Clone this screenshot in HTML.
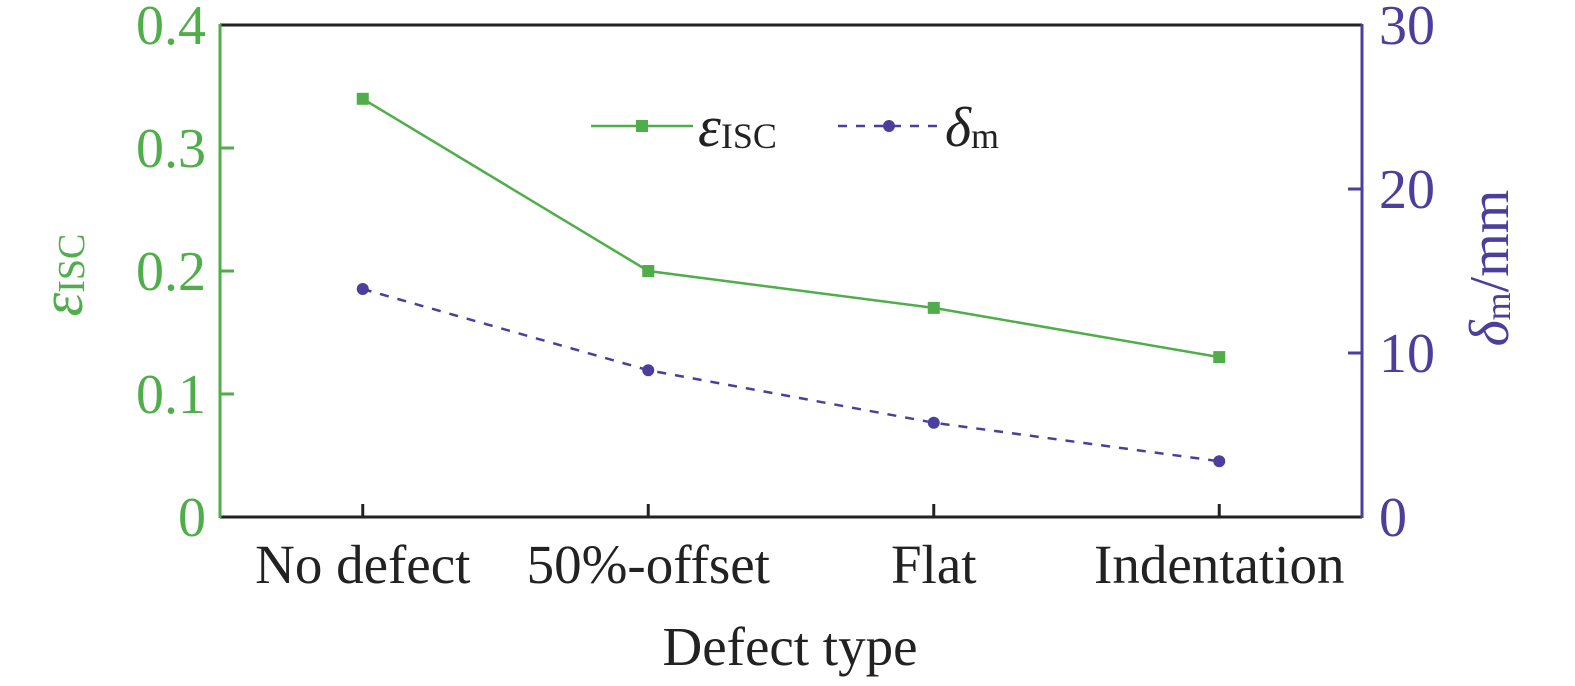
<!DOCTYPE html>
<html><head><meta charset="utf-8"><style>
html,body{margin:0;padding:0;background:#fff;width:1575px;height:686px;overflow:hidden}
text{font-family:"Liberation Serif",serif}
</style></head><body>
<svg id="chart" width="1575" height="686" style="position:absolute;left:0;top:0">
<g id="g"></g>
</svg>
<script>
const categories=["No defect","50%-offset","Flat","Indentation"];
const epsValues=[0.34,0.20,0.17,0.13];
const deltaValues=[13.9,8.95,5.75,3.4];
const leftTicks=[0,0.1,0.2,0.3,0.4];
const leftTickLabels=["0","0.1","0.2","0.3","0.4"];
const rightTicks=[0,10,20,30];
const rightTickLabels=["0","10","20","30"];

const G="#4fae4a",P="#4b3f9b";
const L=220,R=1362,T=25,B=517;
const x=i=>L+(R-L)/categories.length*(i+0.5);
const yL=v=>B-(v/0.4)*(B-T);
const yR=v=>B-(v/30)*(B-T);
const g=document.getElementById('g');
function el(tag,attrs,text){const e=document.createElementNS('http://www.w3.org/2000/svg',tag);for(const k in attrs)e.setAttribute(k,attrs[k]);if(text!==undefined)e.textContent=text;g.appendChild(e);return e;}

let e;
e=el('line',{x1:L,y1:T,x2:R,y2:T,stroke:'#222','stroke-width':3});


e=el('line',{x1:L,y1:B,x2:R,y2:B,stroke:'#222','stroke-width':3});


e=el('line',{x1:L,y1:T-1,x2:L,y2:B+1,stroke:G,'stroke-width':3});


e=el('line',{x1:R,y1:T-1,x2:R,y2:B+1,stroke:P,'stroke-width':3});



leftTicks.forEach((v,i)=>{
 if(v>0&&v<0.4){e=el('line',{x1:L,y1:yL(v),x2:L+14,y2:yL(v),stroke:G,'stroke-width':3});
 
 }
 e=el('text',{x:L-14,y:yL(v)+19,'text-anchor':'end','font-size':56,fill:G},leftTickLabels[i]);
 
 
});
rightTicks.forEach((v,i)=>{
 if(v>0&&v<30){e=el('line',{x1:R,y1:yR(v),x2:R-14,y2:yR(v),stroke:P,'stroke-width':3});
 
 }
 e=el('text',{x:R+17,y:yR(v)+19,'text-anchor':'start','font-size':56,fill:P},rightTickLabels[i]);
 
 
});
categories.forEach((c,i)=>{
 e=el('line',{x1:x(i),y1:B,x2:x(i),y2:B-13,stroke:'#222','stroke-width':3});
 
 
 e=el('text',{x:x(i),y:583,'text-anchor':'middle','font-size':55,fill:'#222'},c);
 
 
});

e=el('polyline',{points:epsValues.map((v,i)=>x(i)+','+yL(v)).join(' '),fill:'none',stroke:G,'stroke-width':2.5});


epsValues.forEach((v,i)=>{
 e=el('rect',{x:x(i)-6,y:yL(v)-6,width:12,height:12,fill:G});
 
 
});
e=el('polyline',{points:deltaValues.map((v,i)=>x(i)+','+yR(v)).join(' '),fill:'none',stroke:P,'stroke-width':2.5,'stroke-dasharray':'9,9'});


deltaValues.forEach((v,i)=>{
 e=el('circle',{cx:x(i),cy:yR(v),r:6,fill:P});
 
 
});
</script>
<svg width="1575" height="686" style="position:absolute;left:0;top:0">
<g>
<line x1="591" y1="126" x2="693" y2="126" stroke="#4fae4a" stroke-width="2.5"/>
<rect x="636" y="120" width="12" height="12" fill="#4fae4a"/>
<text x="698" y="146" font-size="58" font-style="italic" fill="#222" font-family="Liberation Serif,serif">ε<tspan font-size="36" font-style="normal" dy="2">ISC</tspan></text>
<line x1="838" y1="126" x2="940" y2="126" stroke="#4b3f9b" stroke-width="2.5" stroke-dasharray="9,9"/>
<circle cx="889" cy="126" r="6" fill="#4b3f9b"/>
<text x="945" y="146" font-size="56" font-style="italic" fill="#222" font-family="Liberation Serif,serif">δ<tspan font-size="36" font-style="normal" dy="2">m</tspan></text>
</g>
<text transform="translate(82,275) rotate(-90)" text-anchor="middle" font-size="60" fill="#4fae4a" font-family="Liberation Serif,serif"><tspan font-style="italic">ε</tspan><tspan font-size="38" dy="2">ISC</tspan></text>
<text transform="translate(1508,268) rotate(-90)" text-anchor="middle" font-size="56" fill="#4b3f9b" font-family="Liberation Serif,serif"><tspan font-style="italic">δ</tspan><tspan font-size="36" dy="2">m</tspan><tspan dy="-2">/mm</tspan></text>
<text x="790" y="665" text-anchor="middle" font-size="55" fill="#222" font-family="Liberation Serif,serif">Defect type</text>
</svg>
</body></html>
